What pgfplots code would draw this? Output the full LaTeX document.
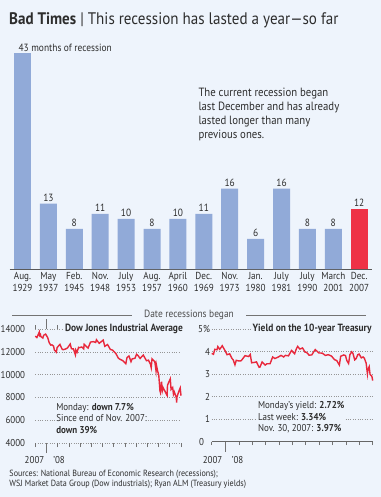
\documentclass[border=0pt]{standalone}
\usepackage{pgfplots}
\pgfplotsset{compat=1.18}
\usepackage{fontspec}
\setmainfont{PT Sans}[FakeStretch=0.9]
\definecolor{bg}{RGB}{238,244,252}
\definecolor{barblue}{RGB}{145,170,216}
\definecolor{barred}{RGB}{238,50,70}
\definecolor{linered}{RGB}{232,40,60}
\definecolor{txt}{RGB}{45,45,45}
\definecolor{gridc}{RGB}{150,150,150}
\pgfplotstableread{
d v
0 13372
4 13249
10 13727
11 13433
13 13517
14 13340
19 13207
21 13450
26 13551
31 13265
33 13044
35 12800
39 12589
42 12606
46 12501
48 12159
53 11971
55 12378
62 12650
67 12265
70 12182
76 12241
81 12337
88 12684
91 12266
96 12254
101 11741
102 12157
105 11951
109 12392
111 12361
117 12422
122 12263
123 12655
133 12325
139 12850
146 12891
152 12820
154 13058
161 12745
171 13028
175 12480
182 12638
189 12209
195 12141
203 11843
209 11453
213 11350
220 11231
228 10963
231 11496
236 11632
241 11132
244 11378
251 11431
255 11782
259 11659
264 11417
272 11715
280 11220
285 11268
290 10917
292 10610
294 11388
301 11143
304 10365
305 10851
308 10325
311 9955
314 8579
315 8451
318 9387
320 8578
322 8852
327 8519
332 8176
333 9065
336 9325
340 9625
342 8696
346 8870
348 8283
350 8497
355 7997
356 7552
357 8046
361 8479
365 8829
367 8149
}\dowdata
\pgfplotstableread{
d v
0 3.93
4 3.89
7 4.11
12 4.09
14 4.23
18 4.11
21 4.18
24 4.27
31 4.03
35 3.87
41 3.91
46 3.71
49 3.64
53 3.42
56 3.62
62 3.59
67 3.60
70 3.67
76 3.83
84 3.79
88 3.88
91 3.51
98 3.53
102 3.55
108 3.31
110 3.32
115 3.55
122 3.41
126 3.47
133 3.47
139 3.77
144 3.70
152 3.77
158 3.84
164 3.77
168 3.84
175 3.82
182 4.06
189 3.91
193 4.13
196 4.24
201 4.12
207 4.17
213 3.98
216 3.98
222 3.85
228 3.86
236 4.10
244 3.95
252 3.94
259 3.84
266 3.87
273 3.81
280 3.65
285 3.61
291 3.41
294 3.80
301 3.86
305 3.83
308 3.61
312 3.48
315 3.87
319 4.00
322 3.93
326 3.64
329 3.69
333 3.87
336 3.90
341 3.73
345 3.77
348 3.71
352 3.50
355 3.02
356 3.20
359 3.34
361 2.99
365 2.92
367 2.72
}\tsydata
\begin{document}
\begin{tikzpicture}
\fill[bg] (0,0) rectangle (381bp,-497bp);
% Title
\node[anchor=west, inner sep=0, text=txt, font=\fontsize{16.8}{18}\selectfont] at (9bp,-20bp) {\textbf{Bad Times} | This recession has lasted a year—so far};
% Bar chart
\begin{axis}[at={(9.55bp,-269bp)}, anchor=south west, scale only axis,
  width=362.6bp, height=225.9bp, xmin=-0.5, xmax=13.5, ymin=0, ymax=45,
  axis x line=bottom, hide y axis, x axis line style={draw=black!65, -, line width=0.8bp},
  xtick={0,...,13}, major tick length=0pt,
  /pgf/number format/assume math mode=true,
  xticklabels={{Aug.\\1929},{May\\1937},{Feb.\\1945},{Nov.\\1948},{July\\1953},{Aug.\\1957},{April\\1960},{Dec.\\1969},{Nov.\\1973},{Jan.\\1980},{July\\1981},{July\\1990},{March\\2001},{Dec.\\2007}},
  xticklabel style={anchor=north, yshift=-3bp, align=center, inner sep=0pt, text=txt, font=\fontsize{10.2}{12}\selectfont},
  clip=false]
\addplot[ybar, bar width=17bp, bar shift=0pt, fill=barblue, draw=none] coordinates {(0,43)};
\addplot[ybar, bar width=17bp, bar shift=0pt, fill=barblue, draw=none,
  nodes near coords, nodes near coords style={text=txt, font=\fontsize{10.5}{12}\selectfont, inner sep=2bp, anchor=south},
  point meta=y] coordinates {(1,13)(2,8)(3,11)(4,10)(5,8)(6,10)(7,11)(8,16)(9,6)(10,16)(11,8)(12,8)};
\addplot[ybar, bar width=17bp, bar shift=0pt, fill=barred, draw=none,
  nodes near coords, nodes near coords style={text=txt, font=\fontsize{10.5}{12}\selectfont, inner sep=2bp, anchor=south},
  point meta=y] coordinates {(13,12)};
\node[anchor=south west, inner sep=0pt, text=txt, font=\fontsize{10.5}{12}\selectfont] at (axis cs:-0.16,43.3) {43 months of recession};
\end{axis}
\node[anchor=north west, inner sep=0pt, text=txt, align=left, font=\fontsize{12}{14}\selectfont] at (198.3bp,-88bp) {The current recession began\\last December and has already\\lasted longer than many\\previous ones.};
% Date recessions began
\draw[black!55, line width=0.6bp] (12bp,-315bp) -- (132bp,-315bp);
\draw[black!55, line width=0.6bp] (246bp,-315bp) -- (366bp,-315bp);
\node[text=black!70, inner sep=0pt, font=\fontsize{10.5}{12}\selectfont] at (189bp,-315bp) {Date recessions began};
% Dow chart
\begin{axis}[at={(35.3bp,-443bp)}, anchor=south west, scale only axis,
  width=145.7bp, height=114bp, xmin=0, xmax=367, ymin=4000, ymax=14000,
  axis line style={draw=none},
  ytick={4000,6000,...,14000}, scaled y ticks=false, ymajorgrids, grid style={gridc, dotted, line width=0.6bp},
  y tick style={draw=none},
  yticklabel style={anchor=east, xshift=-6bp, inner sep=0pt, text=txt, font=\fontsize{10}{12}\selectfont},
  /pgf/number format/assume math mode=true, /pgf/number format/1000 sep={},
  xtick={0,28.23,...,367.1}, xticklabels={}, tick align=outside,
  x tick style={draw=black!55, line width=0.6bp},
  major tick length=4bp,
  extra x ticks={28.23}, extra x tick labels={}, extra x tick style={major tick length=10bp},
  clip=false]
\node[anchor=east, fill=bg, inner sep=1.5bp, text=txt, font=\bfseries\fontsize{10.5}{12}\selectfont] at ([xshift=3.5bp]axis cs:367,14000) {Dow Jones Industrial Average};
\node[anchor=north west, fill=bg, inner sep=1bp, align=left, text=txt, font=\fontsize{10}{11.7}\selectfont] at (axis cs:50,7620) {Monday: \textbf{down 7.7\%}\\Since end of Nov. 2007:\\\textbf{down 39\%}};
\node[text=txt, inner sep=0pt, font=\fontsize{10}{12}\selectfont] at ([yshift=-17bp]axis cs:-2,4000) {2007};
\node[text=txt, inner sep=0pt, font=\fontsize{10}{12}\selectfont] at ([yshift=-17bp]axis cs:60,4000) {’08};
\addplot[linered, line width=1.4bp] table[x=d, y=v] {\dowdata};
\end{axis}
% Treasury chart
\begin{axis}[at={(211.7bp,-441.7bp)}, anchor=south west, scale only axis,
  width=161bp, height=112.4bp, xmin=0, xmax=367, ymin=0, ymax=5,
  axis x line=bottom, axis y line=left, y axis line style={draw=none}, x axis line style={draw=black!60, -, line width=0.7bp},
  ytick={0,1,...,5}, yticklabels={0\hspace*{6bp},1,2,3,4,5\%}, ymajorgrids, grid style={gridc, dotted, line width=0.6bp},
  y tick style={draw=none},
  yticklabel style={anchor=east, xshift=3bp, fill=bg, inner sep=1bp, text=txt, font=\fontsize{10}{12}\selectfont},
  /pgf/number format/assume math mode=true,
  xtick={0,32,63,92,123,153,184,214,245,276,306,337,367}, xticklabels={}, tick align=outside,
  x tick style={draw=black!55, line width=0.6bp}, major tick length=3.5bp,
  extra x ticks={32}, extra x tick labels={}, extra x tick style={major tick length=10bp},
  clip=false]
\node[anchor=east, fill=bg, inner sep=1.5bp, text=txt, font=\bfseries\fontsize{10.5}{12}\selectfont] at ([xshift=0.5bp]axis cs:367,5) {Yield on the 10-year Treasury};
\node[anchor=north west, fill=bg, inner sep=1bp, align=left, text=txt, font=\fontsize{10}{11.7}\selectfont] at (axis cs:103,1.85) {Monday’s yield: \textbf{2.72\%}\\Last week: \textbf{3.34\%}\\Nov. 30, 2007: \textbf{3.97\%}};
\node[text=txt, inner sep=0pt, font=\fontsize{10}{12}\selectfont] at ([yshift=-18bp]axis cs:2,0) {2007};
\node[text=txt, inner sep=0pt, font=\fontsize{10}{12}\selectfont] at ([yshift=-18bp]axis cs:59,0) {’08};
\addplot[linered, line width=1.4bp] table[x=d, y=v] {\tsydata};
\end{axis}
% Sources
\node[anchor=north west, inner sep=0pt, align=left, text=txt, font=\fontsize{9}{9.6}\selectfont] at (9.3bp,-470bp) {Sources: National Bureau of Economic Research (recessions);\\WSJ Market Data Group (Dow industrials); Ryan ALM (Treasury yields)};
\end{tikzpicture}
\end{document}
